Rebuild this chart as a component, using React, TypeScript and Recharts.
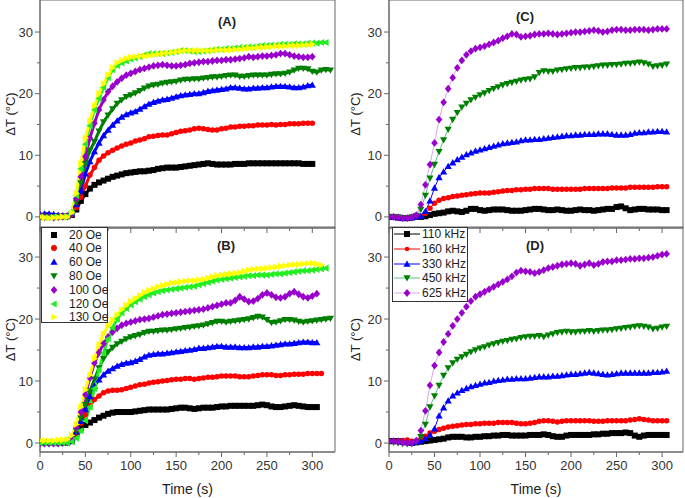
import React from 'react';
import { LineChart, Line, XAxis, YAxis, ReferenceArea } from 'recharts';

// sampling times (s), shared by every series
const TIME = [0, 5, 10, 15, 20, 25, 30, 35, 40, 45, 50, 55, 60, 65, 70, 75, 80, 85, 90, 95,
  100, 105, 110, 115, 120, 125, 130, 135, 140, 145, 150, 155, 160, 165, 170, 175, 180, 185, 190, 195,
  200, 205, 210, 215, 220, 225, 230, 235, 240, 245, 250, 255, 260, 265, 270, 275, 280, 285, 290, 295,
  300, 305, 310, 315, 320];

const X_TICKS = [0, 25, 50, 75, 100, 125, 150, 175, 200, 225, 250, 275, 300];
const Y_TICKS = [0, 5, 10, 15, 20, 25, 30];

// ---- panel A (field series) ----
const A_20 = [0.1, 0.0, 0.1, 0.0, 0.0, 0.1, 0.1, 0.3, 1.2, 2.6,
  3.7, 4.6, 5.2, 5.6, 5.9, 6.2, 6.5, 6.7, 6.9, 7.1,
  7.2, 7.3, 7.4, 7.4, 7.5, 7.6, 7.8, 7.9, 8.0, 8.0,
  8.0, 8.1, 8.2, 8.3, 8.4, 8.5, 8.6, 8.7, 8.6, 8.5,
  8.5, 8.5, 8.5, 8.6, 8.6, 8.6, 8.7, 8.7, 8.7, 8.7,
  8.7, 8.7, 8.7, 8.7, 8.7, 8.7, 8.7, 8.7, 8.6, 8.6,
  8.6];
const A_40 = [0.0, -0.1, 0.0, -0.1, 0.0, 0.0, 0.1, 0.3, 1.5, 3.2,
  5.0, 6.8, 8.0, 9.2, 9.9, 10.4, 10.8, 11.2, 11.5, 11.8,
  12.0, 12.3, 12.5, 12.7, 13.0, 13.1, 13.2, 13.3, 13.3, 13.5,
  13.7, 13.9, 14.0, 14.1, 14.3, 14.4, 14.3, 14.2, 14.1, 14.1,
  14.3, 14.4, 14.6, 14.6, 14.7, 14.7, 14.8, 14.8, 14.9, 14.9,
  14.9, 15.0, 14.9, 15.0, 15.0, 15.1, 15.1, 15.1, 15.2, 15.2,
  15.2];
const A_60 = [0.4, 0.5, 0.5, 0.4, 0.3, 0.2, 0.2, 0.5, 2.0, 4.2,
  7.0, 9.0, 10.6, 12.0, 13.2, 14.1, 14.9, 15.6, 16.2, 16.6,
  16.9, 17.1, 17.5, 17.9, 18.3, 18.6, 18.8, 19.0, 19.1, 19.3,
  19.5, 19.7, 19.8, 19.9, 20.0, 20.0, 20.2, 20.4, 20.5, 20.6,
  20.7, 20.8, 21.0, 21.0, 20.9, 20.8, 20.8, 20.9, 20.9, 21.0,
  21.0, 21.1, 21.2, 21.2, 21.2, 21.1, 21.0, 21.0, 21.1, 21.3,
  21.4];
const A_80 = [0.1, 0.0, 0.0, 0.0, -0.1, 0.0, 0.1, 0.5, 2.4, 5.5,
  8.6, 10.8, 12.2, 13.9, 15.4, 16.5, 17.5, 18.4, 19.0, 19.5,
  19.8, 20.1, 20.5, 20.9, 21.2, 21.4, 21.5, 21.7, 21.8, 21.9,
  22.0, 22.2, 22.3, 22.3, 22.4, 22.4, 22.5, 22.6, 22.7, 22.7,
  22.8, 22.9, 23.0, 23.0, 22.8, 22.8, 22.9, 23.0, 23.0, 23.0,
  23.0, 23.1, 23.2, 23.2, 23.3, 23.5, 23.8, 24.1, 24.1, 24.0,
  23.6, 23.5, 23.8, 23.9, 23.8];
const A_100 = [0.1, 0.0, 0.0, -0.1, 0.0, 0.0, 0.1, 0.6, 3.0, 6.5,
  9.8, 12.8, 15.2, 17.4, 19.0, 20.3, 21.2, 21.9, 22.5, 23.0,
  23.3, 23.6, 23.9, 24.1, 24.3, 24.5, 24.6, 24.7, 24.6, 24.5,
  24.5, 24.6, 24.7, 24.9, 25.0, 25.1, 25.2, 25.2, 25.3, 25.4,
  25.4, 25.5, 25.5, 25.6, 25.7, 25.8, 26.0, 25.9, 26.0, 26.1,
  26.1, 26.2, 26.3, 26.5, 26.5, 26.3, 26.1, 26.0, 25.9, 25.9,
  26.0];
const A_120 = [0.0, -0.1, -0.1, 0.0, 0.0, 0.0, 0.1, 0.8, 3.5, 7.8,
  11.8, 14.8, 17.4, 19.2, 21.0, 22.6, 23.9, 24.6, 25.0, 25.3,
  25.6, 25.8, 26.0, 26.3, 26.5, 26.5, 26.5, 26.5, 26.6, 26.7,
  26.8, 27.0, 27.0, 26.9, 26.8, 26.8, 26.9, 27.0, 27.1, 27.2,
  27.2, 27.3, 27.3, 27.4, 27.5, 27.5, 27.6, 27.6, 27.7, 27.8,
  27.8, 27.9, 27.9, 28.0, 28.0, 28.0, 28.1, 28.1, 28.1, 28.2,
  28.2, 28.2, 28.3, 28.3];
const A_130 = [0.0, -0.1, -0.2, -0.1, -0.1, 0.0, 0.0, 0.7, 3.8, 8.6,
  12.8, 15.6, 18.0, 20.0, 21.6, 23.0, 24.2, 25.0, 25.4, 25.7,
  25.9, 26.0, 26.1, 26.1, 26.2, 26.3, 26.4, 26.5, 26.6, 26.7,
  26.8, 26.9, 27.0, 27.0, 27.0, 27.0, 27.0, 27.0, 27.0, 27.1,
  27.1, 27.1, 27.1, 27.2, 27.2, 27.3, 27.4, 27.4, 27.5, 27.5,
  27.6, 27.6, 27.7, 27.7, 27.7, 27.8, 27.8, 27.8, 27.9, 27.9,
  28.0];

// ---- panel B (field series) ----
const B_20 = [0.1, 0.1, 0.1, 0.0, 0.0, 0.0, 0.1, 0.3, 1.2, 2.4,
  2.9, 3.3, 3.7, 4.1, 4.4, 4.7, 4.9, 5.0, 5.0, 5.0,
  5.0, 5.1, 5.2, 5.3, 5.4, 5.4, 5.4, 5.4, 5.4, 5.5,
  5.6, 5.7, 5.7, 5.6, 5.5, 5.6, 5.7, 5.7, 5.7, 5.8,
  5.9, 5.9, 6.0, 6.0, 6.0, 6.0, 6.0, 6.0, 6.1, 6.2,
  6.1, 5.9, 5.8, 5.8, 5.9, 6.0, 6.1, 6.0, 5.9, 5.8,
  5.8, 5.8];
const B_40 = [0.1, 0.1, 0.0, 0.0, 0.0, 0.0, 0.1, 0.4, 1.6, 3.2,
  4.6, 6.0, 7.0, 7.6, 8.1, 8.4, 8.5, 8.5, 8.6, 8.8,
  9.0, 9.2, 9.4, 9.5, 9.7, 9.8, 9.9, 10.0, 10.1, 10.2,
  10.3, 10.3, 10.4, 10.4, 10.3, 10.4, 10.5, 10.6, 10.6, 10.7,
  10.8, 10.8, 10.8, 10.8, 10.7, 10.7, 10.7, 10.8, 10.9, 11.0,
  11.0, 11.0, 10.9, 10.9, 11.0, 11.0, 11.1, 11.1, 11.1, 11.2,
  11.2, 11.2, 11.2];
const B_60 = [0.1, 0.0, 0.0, 0.0, 0.0, 0.0, 0.2, 0.6, 1.8, 3.5,
  5.4, 7.5, 9.2, 10.2, 11.0, 11.6, 12.0, 12.4, 12.7, 12.9,
  13.0, 13.2, 13.5, 13.9, 14.2, 14.3, 14.4, 14.4, 14.5, 14.6,
  14.7, 14.8, 14.9, 15.0, 15.1, 15.3, 15.3, 15.4, 15.5, 15.6,
  15.6, 15.5, 15.5, 15.5, 15.4, 15.4, 15.4, 15.5, 15.5, 15.6,
  15.6, 15.7, 15.8, 15.9, 16.0, 16.0, 16.1, 16.2, 16.3, 16.3,
  16.2, 16.2];
const B_80 = [0.0, 0.0, 0.0, 0.0, 0.0, 0.0, 0.1, 0.5, 2.0, 4.0,
  6.2, 8.4, 10.3, 12.1, 13.6, 14.7, 15.4, 16.0, 16.4, 16.8,
  17.1, 17.3, 17.5, 17.8, 18.0, 18.0, 18.1, 18.2, 18.2, 18.3,
  18.4, 18.5, 18.6, 18.7, 18.8, 18.9, 19.0, 19.2, 19.4, 19.6,
  19.6, 19.5, 19.6, 19.7, 19.8, 19.9, 20.0, 20.2, 20.4, 20.3,
  19.9, 19.4, 19.5, 19.7, 19.9, 19.9, 19.8, 19.6, 19.5, 19.6,
  19.7, 19.8, 19.9, 20.0, 20.1];
const B_100 = [-0.1, -0.1, -0.1, -0.1, -0.1, 0.0, 0.1, 0.6, 2.5, 5.0,
  7.8, 10.5, 12.9, 14.6, 16.0, 17.1, 17.9, 18.5, 19.0, 19.3,
  19.5, 19.7, 19.9, 20.0, 20.1, 20.3, 20.5, 20.7, 20.8, 20.9,
  21.0, 21.1, 21.2, 21.3, 21.4, 21.5, 21.6, 21.8, 22.0, 22.2,
  22.4, 22.6, 22.6, 23.0, 23.6, 23.2, 22.8, 22.9, 23.3, 23.9,
  24.2, 23.9, 23.5, 23.4, 23.6, 24.1, 24.4, 24.0, 23.6, 23.4,
  23.7, 24.1];
const B_120 = [0.0, 0.0, 0.0, 0.0, 0.0, 0.0, 0.0, 0.2, 0.8, 2.0,
  3.6, 5.8, 8.8, 11.8, 14.5, 16.8, 18.6, 20.0, 21.0, 21.7,
  22.3, 22.8, 23.2, 23.6, 23.9, 24.2, 24.4, 24.6, 24.7, 24.8,
  24.9, 25.0, 25.1, 25.2, 25.3, 25.5, 25.7, 25.9, 26.1, 26.3,
  26.4, 26.5, 26.6, 26.7, 26.8, 26.9, 27.0, 27.0, 27.1, 27.1,
  27.1, 27.2, 27.3, 27.3, 27.4, 27.5, 27.6, 27.7, 27.8, 27.8,
  27.9, 28.0, 28.1, 28.2];
const B_130 = [0.4, 0.4, 0.4, 0.4, 0.5, 0.5, 0.6, 1.2, 3.0, 5.8,
  8.6, 11.0, 13.6, 15.8, 17.6, 18.9, 19.8, 20.7, 21.5, 22.2,
  22.8, 23.3, 23.8, 24.3, 24.6, 24.9, 25.2, 25.4, 25.6, 25.8,
  25.9, 26.0, 26.1, 26.2, 26.2, 26.3, 26.4, 26.6, 26.8, 27.0,
  27.1, 27.2, 27.3, 27.4, 27.5, 27.7, 27.9, 28.0, 28.1, 28.1,
  28.2, 28.3, 28.4, 28.5, 28.6, 28.7, 28.8, 28.8, 28.9, 29.0,
  29.0, 28.9, 28.7];

// ---- panel C (frequency series) ----
const C_110 = [0.0, 0.0, -0.1, -0.2, -0.2, -0.1, 0.0, 0.0, 0.1, 0.3,
  0.5, 0.6, 0.7, 0.9, 1.0, 0.9, 0.8, 1.0, 1.3, 1.3,
  1.1, 1.0, 1.1, 1.2, 1.2, 1.2, 1.1, 1.0, 1.0, 1.0,
  1.1, 1.2, 1.3, 1.3, 1.2, 1.1, 1.1, 1.2, 1.1, 1.0,
  1.0, 1.1, 1.2, 1.1, 1.1, 1.0, 1.1, 1.2, 1.3, 1.3,
  1.6, 1.7, 1.4, 1.1, 1.2, 1.3, 1.3, 1.2, 1.2, 1.2,
  1.1, 1.1];
const C_160 = [0.0, 0.0, -0.1, -0.2, -0.2, -0.1, 0.0, 0.1, 0.6, 1.4,
  2.2, 2.7, 3.0, 3.1, 3.3, 3.4, 3.5, 3.6, 3.7, 3.8,
  3.9, 3.9, 3.9, 4.0, 4.1, 4.2, 4.3, 4.3, 4.4, 4.4,
  4.5, 4.5, 4.6, 4.6, 4.6, 4.6, 4.5, 4.5, 4.5, 4.5,
  4.5, 4.5, 4.5, 4.6, 4.6, 4.6, 4.6, 4.6, 4.6, 4.7,
  4.7, 4.7, 4.7, 4.8, 4.8, 4.8, 4.8, 4.8, 4.8, 4.9,
  4.9, 4.9];
const C_330 = [0.0, 0.0, -0.1, -0.2, -0.2, -0.1, 0.0, 0.1, 0.9, 2.6,
  4.7, 6.4, 7.3, 8.2, 8.8, 9.3, 9.7, 10.1, 10.4, 10.7,
  10.9, 11.1, 11.3, 11.5, 11.7, 11.9, 12.0, 12.1, 12.2, 12.4,
  12.5, 12.5, 12.6, 12.6, 12.7, 12.8, 12.9, 13.0, 13.1, 13.2,
  13.2, 13.3, 13.3, 13.4, 13.4, 13.4, 13.5, 13.5, 13.5, 13.4,
  13.3, 13.3, 13.3, 13.4, 13.6, 13.7, 13.7, 13.8, 13.8, 13.9,
  13.9, 13.8];
const C_450 = [0.0, 0.0, -0.1, -0.2, -0.2, -0.1, 0.2, 1.2, 3.5, 6.3,
  8.5, 10.6, 12.5, 14.2, 15.8, 16.9, 17.8, 18.4, 19.0, 19.4,
  19.8, 20.1, 20.5, 20.8, 21.1, 21.4, 21.6, 21.8, 22.0, 22.2,
  22.3, 22.4, 22.7, 23.4, 23.7, 23.6, 23.6, 23.8, 23.9, 24.0,
  24.1, 24.2, 24.2, 24.3, 24.3, 24.4, 24.5, 24.6, 24.6, 24.7,
  24.7, 24.8, 24.9, 24.9, 25.0, 25.1, 25.0, 24.8, 24.4, 24.5,
  24.6, 24.8];
const C_625 = [0.0, 0.0, -0.1, -0.2, -0.2, -0.1, 0.3, 2.0, 5.2, 8.5,
  12.0, 15.8, 18.6, 20.8, 22.6, 24.2, 25.4, 26.3, 26.9, 27.3,
  27.5, 27.7, 28.0, 28.3, 28.6, 29.0, 29.3, 29.7, 29.6, 29.2,
  29.3, 29.4, 29.6, 29.7, 29.7, 29.8, 29.7, 29.6, 29.7, 29.8,
  29.9, 30.0, 30.0, 30.1, 30.2, 30.3, 30.2, 30.0, 30.1, 30.3,
  30.4, 30.4, 30.3, 30.3, 30.4, 30.4, 30.4, 30.3, 30.4, 30.5,
  30.5, 30.5];

// ---- panel D (frequency series) ----
const D_110 = [0.3, 0.3, 0.3, 0.2, 0.1, 0.0, 0.1, 0.2, 0.3, 0.4,
  0.5, 0.6, 0.7, 0.9, 1.0, 1.0, 1.0, 0.9, 0.9, 1.0,
  1.0, 1.1, 1.1, 1.2, 1.2, 1.3, 1.3, 1.2, 1.2, 1.2,
  1.2, 1.3, 1.3, 1.3, 1.4, 1.3, 1.1, 1.0, 1.0, 1.2,
  1.3, 1.3, 1.3, 1.3, 1.3, 1.4, 1.4, 1.5, 1.5, 1.6,
  1.6, 1.6, 1.7, 1.6, 1.2, 1.0, 1.2, 1.3, 1.3, 1.3,
  1.3, 1.3];
const D_160 = [0.3, 0.3, 0.3, 0.4, 0.5, 0.3, 0.3, 0.6, 1.1, 1.6,
  1.9, 2.2, 2.4, 2.6, 2.7, 2.8, 2.9, 3.0, 3.0, 3.1,
  3.1, 3.2, 3.2, 3.2, 3.3, 3.3, 3.3, 3.3, 3.2, 3.1,
  3.1, 3.2, 3.3, 3.5, 3.6, 3.6, 3.5, 3.4, 3.5, 3.6,
  3.6, 3.6, 3.6, 3.6, 3.6, 3.5, 3.5, 3.5, 3.6, 3.6,
  3.6, 3.6, 3.6, 3.7, 3.8, 3.9, 3.8, 3.7, 3.6, 3.6,
  3.6, 3.6];
const D_330 = [0.3, 0.3, 0.3, 0.2, 0.1, 0.0, 0.1, 0.3, 0.7, 1.3,
  2.3, 4.4, 5.7, 6.8, 7.6, 8.1, 8.5, 8.8, 9.1, 9.3,
  9.5, 9.7, 9.8, 10.0, 10.1, 10.2, 10.3, 10.3, 10.4, 10.4,
  10.4, 10.5, 10.6, 10.7, 10.7, 10.7, 10.8, 10.8, 10.9, 11.0,
  11.1, 11.1, 11.2, 11.3, 11.4, 11.3, 11.2, 11.1, 11.0, 11.1,
  11.2, 11.3, 11.3, 11.3, 11.3, 11.3, 11.3, 11.3, 11.4, 11.4,
  11.5, 11.6];
const D_450 = [0.2, 0.1, 0.0, -0.1, -0.1, -0.1, 0.2, 1.0, 3.0, 5.8,
  7.6, 9.3, 10.9, 12.1, 12.9, 13.5, 13.9, 14.3, 14.7, 15.0,
  15.3, 15.5, 15.8, 16.0, 16.2, 16.4, 16.5, 16.7, 16.8, 17.0,
  17.1, 17.2, 17.2, 17.3, 17.1, 17.4, 17.6, 17.8, 17.9, 18.0,
  17.9, 17.9, 18.0, 18.0, 18.1, 18.0, 18.1, 18.2, 18.2, 18.3,
  18.4, 18.5, 18.6, 18.7, 18.8, 18.9, 18.8, 18.7, 18.4, 18.5,
  18.7, 18.8];
const D_625 = [0.3, 0.3, 0.2, 0.1, 0.0, 0.0, 0.4, 2.0, 5.2, 9.3,
  12.5, 14.6, 16.3, 17.6, 18.9, 20.0, 21.0, 22.0, 22.9, 23.6,
  24.0, 24.4, 24.8, 25.2, 25.6, 26.0, 26.4, 26.9, 27.5, 27.8,
  27.7, 27.6, 27.4, 27.6, 27.9, 28.2, 28.4, 28.6, 28.8, 28.9,
  29.0, 28.9, 28.6, 28.8, 29.0, 28.7, 28.9, 29.2, 29.3, 29.3,
  29.5, 29.5, 29.6, 29.7, 29.7, 29.8, 29.8, 29.9, 30.0, 30.2,
  30.4, 30.5];

const OE_NAMES = ['20 Oe', '40 Oe', '60 Oe', '80 Oe', '100 Oe', '120 Oe', '130 Oe'];
const KHZ_NAMES = ['110 kHz', '160 kHz', '330 kHz', '450 kHz', '625 kHz'];

type Shape = 'square' | 'circle' | 'up' | 'down' | 'diamond' | 'left' | 'right';
interface SeriesStyle { color: string; line: string; shape: Shape; }

const OE_STYLES: SeriesStyle[] = [
  { color: '#000000', line: '#000000', shape: 'square' },
  { color: '#ff0000', line: '#ff0000', shape: 'circle' },
  { color: '#0000ff', line: '#0000ff', shape: 'up' },
  { color: '#008000', line: '#008000', shape: 'down' },
  { color: '#9900cc', line: '#9900cc', shape: 'diamond' },
  { color: '#22ee22', line: '#22ee22', shape: 'left' },
  { color: '#ffff00', line: '#ffff00', shape: 'right' },
];
const KHZ_STYLES: SeriesStyle[] = [
  { color: '#000000', line: '#000000', shape: 'square' },
  { color: '#ff0000', line: '#ff0000', shape: 'circle' },
  { color: '#0000ff', line: '#0000ff', shape: 'up' },
  { color: '#008000', line: '#5fc08a', shape: 'down' },
  { color: '#9900cc', line: '#d4a8f0', shape: 'diamond' },
];

const AXIS = '#666';
const FONT = '"Liberation Sans", Arial, sans-serif';

function marker(shape: Shape, cx: number, cy: number, s: number, color: string) {
  const h = s / 2;
  switch (shape) {
    case 'square':
      return <rect x={cx - h} y={cy - h} width={s} height={s} fill={color} />;
    case 'circle':
      return <circle cx={cx} cy={cy} r={h} fill={color} />;
    case 'up':
      return <polygon points={`${cx},${cy - s * 0.6} ${cx - s * 0.6},${cy + s * 0.45} ${cx + s * 0.6},${cy + s * 0.45}`} fill={color} />;
    case 'down':
      return <polygon points={`${cx},${cy + s * 0.6} ${cx - s * 0.6},${cy - s * 0.45} ${cx + s * 0.6},${cy - s * 0.45}`} fill={color} />;
    case 'diamond':
      return <polygon points={`${cx},${cy - s * 0.65} ${cx + s * 0.55},${cy} ${cx},${cy + s * 0.65} ${cx - s * 0.55},${cy}`} fill={color} />;
    case 'left':
      return <polygon points={`${cx - s * 0.6},${cy} ${cx + s * 0.45},${cy - s * 0.6} ${cx + s * 0.45},${cy + s * 0.6}`} fill={color} />;
    case 'right':
      return <polygon points={`${cx + s * 0.6},${cy} ${cx - s * 0.45},${cy - s * 0.6} ${cx - s * 0.45},${cy + s * 0.6}`} fill={color} />;
  }
  return null;
}

function makeRows(series: number[][]) {
  return TIME.map((t, i) => {
    const row: Record<string, number | null> = { t };
    series.forEach((s, k) => {
      row['s' + k] = i < s.length ? s[i] : null;
    });
    return row;
  });
}

function renderXTick(p: any, showLabel: boolean) {
  const { x, y, payload } = p;
  const major = payload.value % 50 === 0;
  return (
    <g key={`xt${payload.value}`}>
      <line x1={x} x2={x} y1={y} y2={y + (major ? 5 : 3)} stroke={AXIS} />
      {showLabel && major && (
        <text x={x} y={y + 18} textAnchor="middle" fontSize={13} fill="#333" fontFamily={FONT}>
          {payload.value}
        </text>
      )}
    </g>
  );
}

function renderYTick(p: any) {
  const { x, y, payload } = p;
  const major = payload.value % 10 === 0;
  return (
    <g key={`yt${payload.value}`}>
      <line x1={x - (major ? 5 : 3)} x2={x} y1={y} y2={y} stroke={AXIS} />
      {major && (
        <text x={x - 7} y={y + 4.5} textAnchor="end" fontSize={13} fill="#333" fontFamily={FONT}>
          {payload.value}
        </text>
      )}
    </g>
  );
}

interface PanelProps {
  series: number[][];
  styles: SeriesStyle[];
  left: number;
  top: number;
  width: number;
  height: number;
  marginTop: number;
  marginRight: number;
  xAxisHeight: number;
  xMax: number;
  yDomain: [number, number];
  showXLabels: boolean;
  thinLines: boolean;
  labelOffset: number;
}

function Panel(props: PanelProps) {
  const { series, styles, left, top, width, height, marginTop, marginRight, xAxisHeight, xMax, yDomain, showXLabels, thinLines, labelOffset } = props;
  const rows = makeRows(series);
  return (
    <div style={{ position: 'absolute', left, top }}>
      <LineChart width={width} height={height} data={rows} margin={{ top: marginTop, right: marginRight, left: 0, bottom: 0 }}>
        <XAxis
          dataKey="t"
          type="number"
          domain={[0, xMax]}
          ticks={X_TICKS}
          interval={0}
          tickSize={0}
          tickMargin={0}
          tickLine={false}
          axisLine={{ stroke: AXIS }}
          tick={(p: any) => renderXTick(p, showXLabels)}
          height={xAxisHeight}
          allowDataOverflow
          label={showXLabels ? { value: 'Time (s)', position: 'insideBottom', offset: 4, fontSize: 14, fill: '#222', fontFamily: FONT } : undefined}
        />
        <YAxis
          type="number"
          domain={yDomain}
          ticks={Y_TICKS}
          interval={0}
          tickSize={0}
          tickMargin={0}
          tickLine={false}
          axisLine={{ stroke: AXIS }}
          tick={renderYTick}
          width={40}
          allowDataOverflow
          label={{ value: 'ΔT (°C)', angle: -90, position: 'insideLeft', offset: labelOffset, fontSize: 13, fill: '#222', fontFamily: FONT, style: { textAnchor: 'middle' } }}
        />
        <ReferenceArea x1={0} x2={xMax} y1={yDomain[0]} y2={yDomain[1]} fill="none" stroke={AXIS} strokeWidth={1} ifOverflow="visible" />
        {styles.map((st, k) => (
          <Line
            key={k}
            dataKey={'s' + k}
            stroke={thinLines ? st.line : st.color}
            strokeWidth={thinLines ? 1 : 3}
            dot={(p: any) => {
              if (p.cx == null || p.cy == null || Number.isNaN(p.cy)) return <g key={`e${k}-${p.index}`} />;
              return <g key={`d${k}-${p.index}`}>{marker(st.shape, p.cx, p.cy, st.shape === 'circle' ? 5.5 : 6, st.color)}</g>;
            }}
            activeDot={false}
            isAnimationActive={false}
          />
        ))}
      </LineChart>
    </div>
  );
}

function Title({ text, x, y }: { text: string; x: number; y: number }) {
  return (
    <div style={{ position: 'absolute', left: x, top: y, transform: 'translate(-50%, -50%)', fontWeight: 'bold', fontSize: 13, color: '#222', whiteSpace: 'nowrap' }}>
      {text}
    </div>
  );
}

function OeLegend() {
  return (
    <div style={{ position: 'absolute', left: 41, top: 227, width: 67, height: 96, border: '1px solid #333', background: '#fff', boxSizing: 'border-box' }}>
      {OE_NAMES.map((name, i) => (
        <div key={name} style={{ position: 'absolute', left: 0, top: 0.5 + i * 13.8, height: 12, width: 120 }}>
          <svg width={12} height={12} style={{ position: 'absolute', left: 6, top: 0 }}>
            {marker(OE_STYLES[i].shape, 6, 6, 6, OE_STYLES[i].color)}
          </svg>
          <span style={{ position: 'absolute', left: 27, top: -1, fontSize: 12, lineHeight: '14px', color: '#222', whiteSpace: 'nowrap' }}>{name}</span>
        </div>
      ))}
    </div>
  );
}

function KhzLegend() {
  return (
    <div style={{ position: 'absolute', left: 392, top: 227, width: 76, height: 75, border: '1px solid #333', background: '#fff', boxSizing: 'border-box' }}>
      {KHZ_NAMES.map((name, i) => (
        <div key={name} style={{ position: 'absolute', left: 0, top: 0 + i * 14.8, height: 12, width: 120 }}>
          <svg width={30} height={12} style={{ position: 'absolute', left: 0, top: 0 }}>
            <line x1={1} x2={27} y1={6} y2={6} stroke={KHZ_STYLES[i].line} strokeWidth={1} />
            {marker(KHZ_STYLES[i].shape, 14, 6, KHZ_STYLES[i].shape === 'circle' ? 4.5 : 6, KHZ_STYLES[i].color)}
          </svg>
          <span style={{ position: 'absolute', left: 29, top: -1, fontSize: 12, lineHeight: '14px', color: '#222', whiteSpace: 'nowrap' }}>{name}</span>
        </div>
      ))}
    </div>
  );
}

export default function App() {
  return (
    <div style={{ position: 'absolute', left: 0, top: 0, width: 685, height: 498, background: '#fff', fontFamily: FONT, overflow: 'hidden' }}>
      <Panel series={[A_20, A_40, A_60, A_80, A_100, A_120, A_130]} styles={OE_STYLES}
        left={0} top={0} width={340} height={234} marginTop={0} marginRight={5} xAxisHeight={6}
        xMax={325} yDomain={[-1.8, 35.2]} showXLabels={false} thinLines={false} labelOffset={10} />
      <Panel series={[B_20, B_40, B_60, B_80, B_100, B_120, B_130]} styles={OE_STYLES}
        left={0} top={222} width={340} height={276} marginTop={5} marginRight={5} xAxisHeight={46}
        xMax={325} yDomain={[-1.45, 34.85]} showXLabels thinLines={false} labelOffset={10} />
      <Panel series={[C_110, C_160, C_330, C_450, C_625]} styles={KHZ_STYLES}
        left={349} top={0} width={336} height={234} marginTop={0} marginRight={2} xAxisHeight={6}
        xMax={323} yDomain={[-1.8, 35.2]} showXLabels={false} thinLines labelOffset={6} />
      <Panel series={[D_110, D_160, D_330, D_450, D_625]} styles={KHZ_STYLES}
        left={349} top={222} width={336} height={276} marginTop={5} marginRight={2} xAxisHeight={46}
        xMax={323} yDomain={[-1.45, 34.85]} showXLabels thinLines labelOffset={6} />
      <Title text="(A)" x={227} y={21} />
      <Title text="(B)" x={226} y={245} />
      <Title text="(C)" x={525} y={16} />
      <Title text="(D)" x={535} y={245} />
      <OeLegend />
      <KhzLegend />
    </div>
  );
}
